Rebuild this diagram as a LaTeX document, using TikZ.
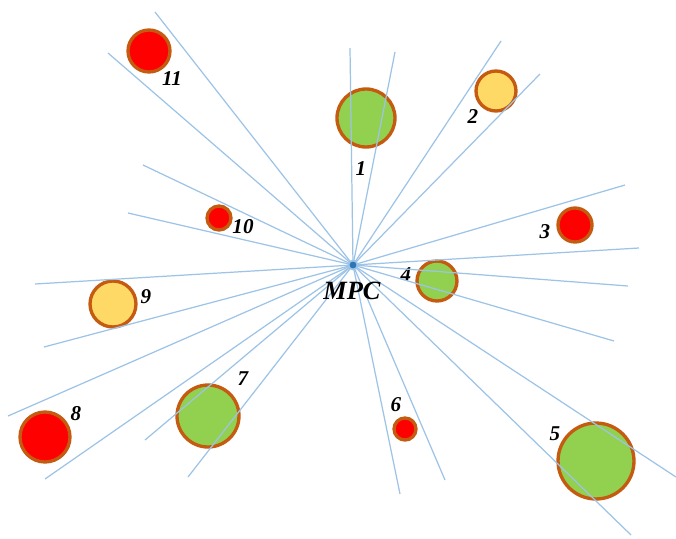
\documentclass[tikz,border=0pt]{standalone}
\usepackage{fontspec}
\setmainfont{Liberation Serif}
\definecolor{sitegreen}{HTML}{92D050}
\definecolor{siteyellow}{HTML}{FFD966}
\definecolor{sitered}{HTML}{FF0000}
\definecolor{siteedge}{HTML}{C55A11}
\definecolor{raycol}{HTML}{9DC3E6}
\definecolor{hubcol}{HTML}{2E75B6}

\begin{document}
\begin{tikzpicture}[
    x=0.02cm, y=-0.02cm,
    site/.style={circle, draw=siteedge, line width=1.9pt, inner sep=0pt, minimum size=#1*0.04cm},
    ray/.style={draw=raycol, line width=0.7pt},
    tag/.style={font=\fontsize{12}{12}\selectfont\bfseries\itshape, inner sep=0pt}
]
    \useasboundingbox (0,0) rectangle (676,538);

    % Sites with their numbers
    \foreach \n/\x/\y/\r/\c/\lx/\ly in {
        1/366/118/29/sitegreen/361/169,
        2/496/91/20/siteyellow/473/117,
        3/575/225/17/sitered/545/232,
        4/437/281/20/sitegreen/406/275,
        5/596/461/38/sitegreen/555/434,
        6/405/429/11/sitered/396/405,
        7/208/416/31/sitegreen/243/379,
        8/45/437/25/sitered/76/414,
        9/113/304/23/siteyellow/146/297,
        10/219/218/12/sitered/243/227,
        11/149/51/21/sitered/172/79}
    {
        \node[site=\r, fill=\c] (s\n) at (\x,\y) {};
        \node[tag] (t\n) at (\lx,\ly) {\n};
    }

    % Rays from the MPC
    \coordinate (mpc) at (353,265);
    \foreach \i/\x/\y in {
        1/350/48, 2/395/52, 3/501/41, 4/540/74, 5/625/185, 6/639/248,
        7/628/286, 8/614/341, 9/676/477, 10/631/535, 11/445/480, 12/400/494,
        13/188/477, 14/145/440, 15/45/479, 16/8/416, 17/44/347, 18/35/284,
        19/128/213, 20/143/165, 21/108/53, 22/155/12}
    {
        \coordinate (e\i) at (\x,\y);
        \draw[ray] (mpc) -- (e\i);
    }

    % Hub
    \node[circle, fill=hubcol, draw=raycol, line width=1pt, inner sep=0pt, minimum size=0.18cm] (hub) at (mpc) {};
    \node[font=\fontsize{15}{15}\selectfont\bfseries\itshape, inner sep=0pt] (lbl) at (352,291) {MPC};
\end{tikzpicture}
\end{document}
